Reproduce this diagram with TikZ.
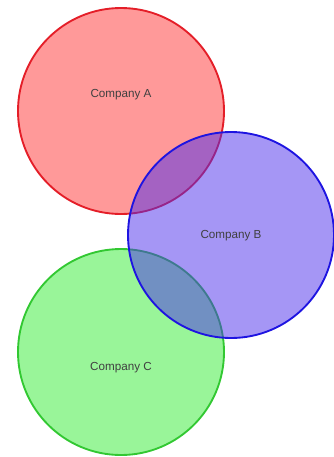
\documentclass[tikz,border=0pt]{standalone}
\usepackage{fontspec}
\setmainfont{Liberation Sans}
\usepackage{xcolor}
\usetikzlibrary{positioning,calc}

\definecolor{redA}{RGB}{228,30,40}
\definecolor{blueB}{RGB}{30,20,225}
\definecolor{greenC}{RGB}{50,200,50}
\definecolor{fillB}{RGB}{75,45,235}

\begin{document}
\begin{tikzpicture}[
  x=0.75pt, y=-0.75pt,
  font=\fontsize{8.75}{10}\selectfont,
  set/.style={circle, minimum size=154.5pt, inner sep=0pt, line width=1.4pt,
              fill opacity=0.4, draw opacity=1},
  setA/.style={set, draw=redA, fill=red},
  setB/.style={set, draw=blueB, fill=fillB, fill opacity=0.5},
  setC/.style={set, draw=greenC, fill=green!90!black},
  lab/.style={text=black!75, inner sep=1pt}
]
  \useasboundingbox (0,0) rectangle (334,457);
  % the three sets, B drawn last so it lies over A and C
  \node[setA] (circA) at (121,111) {};
  \node[setC] (circC) at (121,352) {};
  \node[setB] (circB) at (231,235) {};
  \node[lab] (labA) at ($(circA.center)+(0,-16)$) {Company A};
  \node[lab] (labB) at ($(circB.center)+(0,1)$) {Company B};
  \node[lab] (labC) at ($(circC.center)+(0,16)$) {Company C};
\end{tikzpicture}
\end{document}
